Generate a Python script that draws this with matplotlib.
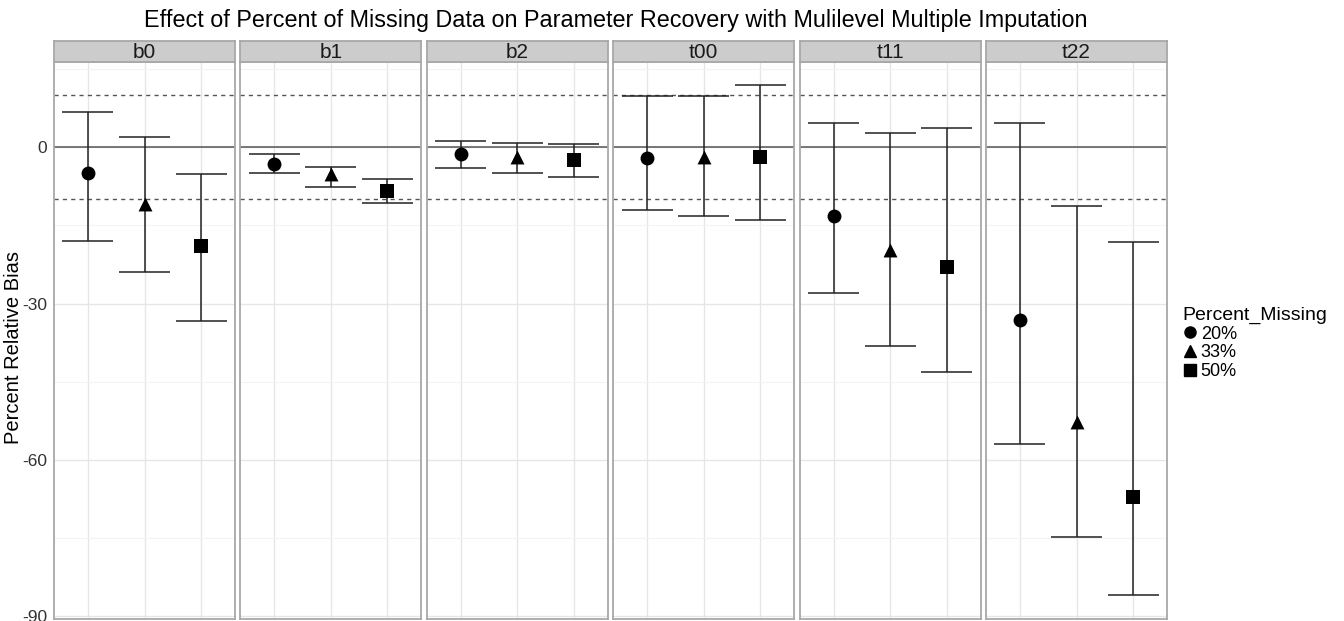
import matplotlib.pyplot as plt
from matplotlib.lines import Line2D

plt.rcParams['font.family'] = ['Liberation Sans', 'DejaVu Sans']
plt.rcParams['axes.unicode_minus'] = False

params = ["b0", "b1", "b2", "t00", "t11", "t22"]
percents = ["20%", "33%", "50%"]
markers = ["o", "^", "s"]

# one row per parameter, columns 20% / 33% / 50%
bias = [[-5.0, -10.8, -19.0],
        [-3.1, -5.2, -8.3],
        [-1.2, -1.9, -2.4],
        [-2.1, -1.9, -1.9],
        [-13.1, -19.8, -23.0],
        [-33.1, -52.8, -67.1]]
lower = [[-18.0, -24.0, -33.3],
         [-4.9, -7.6, -10.6],
         [-4.0, -4.9, -5.6],
         [-12.1, -13.1, -14.0],
         [-28.0, -38.1, -43.1],
         [-57.0, -74.9, -86.0]]
upper = [[6.7, 1.9, -5.2],
         [-1.3, -3.7, -6.0],
         [1.3, 0.9, 0.6],
         [9.8, 9.8, 11.9],
         [4.75, 2.8, 3.8],
         [4.75, -11.2, -18.2]]

W, H = 1344, 621
fig = plt.figure(figsize=(W / 100, H / 100), dpi=100)

left0, pw, gap = 54, 181, 5.4
top, bottom = 62, 619
strip_h = 21

for i, p in enumerate(params):
    x0 = left0 + i * (pw + gap)
    ax = fig.add_axes([x0 / W, (H - bottom) / H, pw / W, (bottom - top) / H])
    ax.set_xlim(0.4, 3.6)
    ax.set_ylim(-90.6, 16.4)
    ax.set_xticks([1, 2, 3])
    ax.set_yticks([0, -30, -60, -90])
    ax.set_yticks([15, -15, -45, -75], minor=True)
    ax.grid(True, which='major', color='#e6e6e6', lw=1.0)
    ax.grid(True, which='minor', color='#f3f3f3', lw=0.8)
    ax.set_axisbelow(True)
    ax.tick_params(axis='x', length=0, labelbottom=False)
    ax.tick_params(axis='y', which='both', length=0)
    if i == 0:
        ax.tick_params(axis='y', labelsize=12.5, colors='#333333', pad=5)
    else:
        ax.tick_params(axis='y', labelleft=False)
    for s in ax.spines.values():
        s.set_color('#a8a8a8')
        s.set_linewidth(1.3)

    ax.axhline(0, color='#555555', lw=1.1, zorder=1)
    ax.axhline(10, color='#555555', lw=1.0, ls=(0, (3, 3)), zorder=1)
    ax.axhline(-10, color='#555555', lw=1.0, ls=(0, (3, 3)), zorder=1)

    for j in range(3):
        xj = j + 1
        ax.vlines(xj, lower[i][j], upper[i][j], color='#222222', lw=1.1, zorder=2)
        ax.hlines([lower[i][j], upper[i][j]], xj - 0.45, xj + 0.45,
                  color='#222222', lw=1.1, zorder=2)
        ax.scatter([xj], [bias[i][j]], marker=markers[j], s=100, color='black',
                   zorder=3, linewidths=0)

    sx = fig.add_axes([x0 / W, (H - top) / H, pw / W, strip_h / H])
    sx.set_facecolor('#cccccc')
    sx.set_xticks([])
    sx.set_yticks([])
    for s in sx.spines.values():
        s.set_color('#a8a8a8')
        s.set_linewidth(1.3)
    sx.text(0.5, 0.45, p, ha='center', va='center', fontsize=15, color='#1a1a1a')

fig.text(14 / W, 1 - 347 / H, "Percent Relative Bias", rotation=90,
         ha='center', va='center', fontsize=14.5)

fig.text(616 / W, 1 - 20 / H, "Effect of Percent of Missing Data on Parameter Recovery "
         "with Mulilevel Multiple Imputation", ha='center', va='center', fontsize=16.8)

handles = [Line2D([], [], marker=m, color='black', ls='none', markersize=8)
           for m in markers]
leg = fig.legend(handles, percents, title="Percent_Missing", loc='upper left',
                 bbox_to_anchor=(1170 / W, 1 - 294 / H), frameon=False,
                 fontsize=13, title_fontsize=14, handlelength=0.8,
                 handletextpad=0.2, labelspacing=0.1, borderpad=0.2)
leg._legend_box.align = "left"

fig.savefig("out.png", dpi=100)
